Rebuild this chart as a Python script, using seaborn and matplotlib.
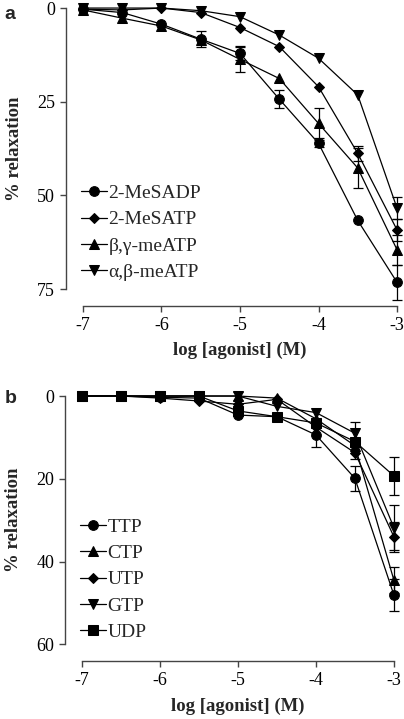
import numpy as np
import pandas as pd
import matplotlib
matplotlib.use("Agg")
import matplotlib.pyplot as plt
import seaborn as sns

# log concentration (M)
log_conc = [-7, -6.5, -6, -5.5, -5, -4.5, -4, -3.5, -3]

# panel a: purine agonists (% relaxation, mean and s.e.m.)
names_a = ["2-MeSADP", "2-MeSATP", "β,γ-meATP", "α,β-meATP"]
mesadp = [0.3, 1.2, 4.3, 8.3, 12.1, 24.3, 36.1, 56.7, 73.2]
mesatp = [0.3, 0.5, 0.0, 1.2, 5.2, 10.3, 21.0, 38.8, 59.2]
bg_meatp = [0.5, 2.7, 4.8, 8.5, 13.7, 18.8, 30.8, 42.7, 64.5]
ab_meatp = [0.0, 0.0, 0.0, 0.7, 2.3, 7.2, 13.4, 23.2, 53.4]
mesadp_err = [0, 0, 0, 2.2, 1.8, 2.5, 1.0, 0, 4.7]
mesatp_err = [0, 0, 0, 0, 0, 0, 0, 2.0, 3.0]
bg_meatp_err = [0, 0, 0, 0, 3.5, 0, 4.0, 5.3, 4.0]
ab_meatp_err = [0, 0, 0, 0, 0, 0, 0, 0, 3.0]

# panel b: nucleotides
names_b = ["TTP", "CTP", "UTP", "GTP", "UDP"]
ttp = [0, 0, 0.3, 0.5, 4.6, 5.0, 9.4, 19.9, 48.1]
ctp = [0, 0, 0, 0, 0, 0.5, 5.5, 12.0, 44.5]
utp = [0, 0, 0.5, 1.2, 2.0, 0.8, 7.5, 13.7, 34.0]
gtp = [0, 0, 0, 0, 0, 2.5, 4.0, 9.0, 31.8]
udp = [0, 0, 0, 0, 3.6, 5.0, 6.5, 11.0, 19.3]
ttp_err = [0, 0, 0, 0, 0, 0, 2.9, 3.0, 3.8]
ctp_err = [0, 0, 0, 0, 0, 0, 0, 0, 3.2]
utp_err = [0, 0, 0, 0, 0, 0, 0, 1.5, 3.6]
gtp_err = [0, 0, 0, 0, 1.0, 0, 0, 2.8, 5.4]
udp_err = [0, 0, 0, 0, 0, 0, 0, 0, 4.5]

sns.set_theme(style="ticks")
plt.rcParams["font.family"] = ["Liberation Serif", "DejaVu Serif"]
plt.rcParams["font.size"] = 13
plt.rcParams["xtick.major.size"] = 4.5
plt.rcParams["ytick.major.size"] = 4.5
plt.rcParams["xtick.direction"] = "out"
plt.rcParams["ytick.direction"] = "out"

markers = {"o": 7, "D": 5, "^": 7.5, "v": 7.5, "s": 6.5}


def draw_panel(ax, names, values, errors, marks, ylim, yticks, leg_y):
    for name, vals, errs, m in zip(names, values, errors, marks):
        df = pd.DataFrame({"x": log_conc, "y": vals})
        sns.lineplot(data=df, x="x", y="y", ax=ax, color="black", lw=0.9,
                     marker=m, markersize=markers[m], markeredgecolor="black",
                     label=name, clip_on=False, zorder=3)
        errs = np.array(errs)
        keep = errs > 0
        ax.errorbar(np.array(log_conc)[keep], np.array(vals)[keep], yerr=errs[keep],
                    fmt="none", ecolor="black", elinewidth=0.9, capsize=3.5,
                    capthick=0.9, clip_on=False, zorder=2)
    ax.set_xlim(-7, -3)
    ax.set_ylim(*ylim)
    ax.set_yticks(yticks)
    ax.set_xticks([-7, -6, -5, -4, -3])
    ax.set_xticklabels(["-7", "-6", "-5", "-4", "-3"])
    ax.set_xlabel("log [agonist] (M)", fontweight="bold", fontsize=13.5, labelpad=6)
    ax.set_ylabel("% relaxation", fontweight="bold", fontsize=13.5, labelpad=10)
    sns.despine(ax=ax, offset=12)
    for s in ["left", "bottom"]:
        ax.spines[s].set_color("#444444")
        ax.spines[s].set_linewidth(1.0)
    ax.tick_params(colors="#444444", labelcolor="black", width=1.0, labelsize=13)
    ax.legend(loc="upper left", bbox_to_anchor=(-0.03, leg_y), frameon=False,
              handlelength=1.3, handletextpad=0.1, labelspacing=0.45,
              borderaxespad=0, fontsize=14)


fig = plt.figure(figsize=(4.04, 7.19), dpi=100)
ax_a = fig.add_axes([0.2054, 0.598, 0.7773, 0.3908])
ax_b = fig.add_axes([0.203, 0.1039, 0.772, 0.3453])

draw_panel(ax_a, names_a, [mesadp, mesatp, bg_meatp, ab_meatp],
           [mesadp_err, mesatp_err, bg_meatp_err, ab_meatp_err],
           ["o", "D", "^", "v"], (75, 0), [0, 25, 50, 75], 0.40)
draw_panel(ax_b, names_b, [ttp, ctp, utp, gtp, udp],
           [ttp_err, ctp_err, utp_err, gtp_err, udp_err],
           ["o", "^", "D", "v", "s"], (60, 0), [0, 20, 40, 60], 0.54)

fig.text(0.012, 0.992, "a", fontweight="bold", fontsize=14, va="top",
         family=["Liberation Sans", "DejaVu Sans"])
fig.text(0.012, 0.458, "b", fontweight="bold", fontsize=14, va="top",
         family=["Liberation Sans", "DejaVu Sans"])

fig.savefig("out.png", dpi=100)
